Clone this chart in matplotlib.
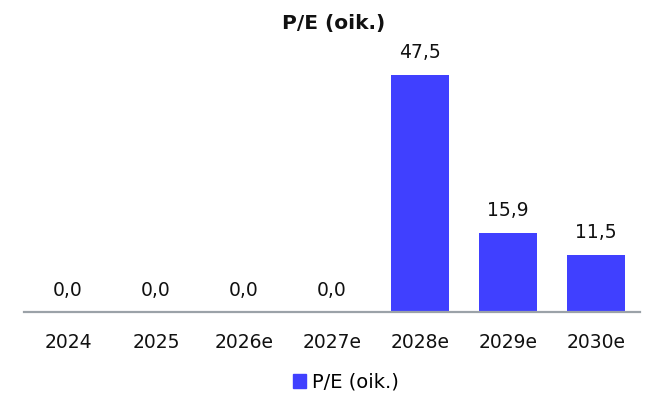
import matplotlib
matplotlib.use("Agg")
import matplotlib.pyplot as plt
import matplotlib.patches as patches

years = ["2024", "2025", "2026e", "2027e", "2028e", "2029e", "2030e"]
pe_values = [0.0, 0.0, 0.0, 0.0, 47.5, 15.9, 11.5]
series_name = "P/E (oik.)"
bar_color = "#4040FF"

plt.rcParams['font.family'] = ['DejaVu Sans']

fig = plt.figure(figsize=(6.51, 3.94), dpi=100)
ax = fig.add_axes([24 / 651, (394 - 312) / 394, 616 / 651, 260 / 394])

x = list(range(len(years)))
bars = ax.bar(x, pe_values, width=0.66, color=bar_color, label=series_name)

for xi, v in zip(x, pe_values):
    ax.annotate(f"{v:.1f}".replace(".", ","), (xi, v), xytext=(0, 9),
                textcoords="offset points", ha="center", va="bottom",
                fontsize=13.5, color="#111111")

ax.set_xlim(-0.5, 6.5)
ax.set_ylim(0, 52)
ax.set_xticks(x)
ax.set_xticklabels(years, fontsize=13.5, color="#111111")
ax.tick_params(axis="x", length=0, pad=15)
ax.set_yticks([])
for side in ["left", "right", "top"]:
    ax.spines[side].set_visible(False)
ax.spines["bottom"].set_color("#9ba2a8")
ax.spines["bottom"].set_linewidth(1.6)

fig.text(334 / 651, 1 - 23 / 394, series_name, ha="center", va="center",
         fontsize=14.5, fontweight="bold", color="#111111")

handle = patches.Patch(color=bar_color, label=series_name)
fig.legend(handles=[handle], loc="center", bbox_to_anchor=(346 / 651, 1 - 382 / 394),
           frameon=False, fontsize=14, handlelength=0.7, handleheight=0.7,
           handletextpad=0.3)

fig.savefig("out.png", dpi=100)
